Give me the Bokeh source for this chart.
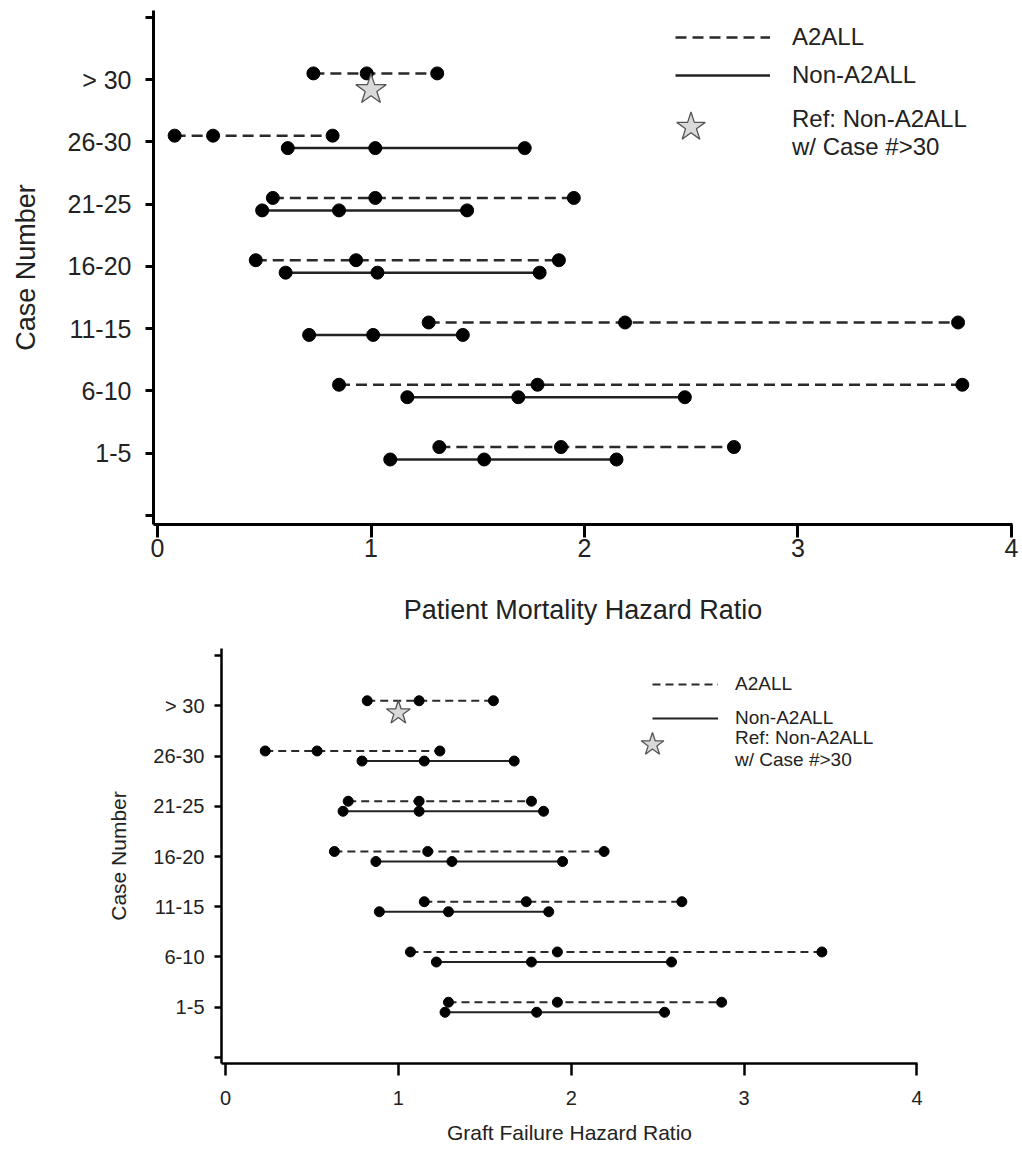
import numpy as np
from bokeh.plotting import figure
from bokeh.models import ColumnDataSource, FixedTicker, Legend, LegendItem, Range1d
from bokeh.embed import file_html
from bokeh.resources import INLINE

# ---------------- data ----------------
categories = ["1-5", "6-10", "11-15", "16-20", "21-25", "26-30", "> 30"]
x_ticks = [0, 1, 2, 3, 4]

# Patient mortality hazard ratios (lower CI, HR, upper CI)
mort_a2all_lo = [1.32, 0.85, 1.27, 0.46, 0.54, 0.08, 0.73]
mort_a2all_hr = [1.89, 1.78, 2.19, 0.93, 1.02, 0.26, 0.98]
mort_a2all_hi = [2.70, 3.77, 3.75, 1.88, 1.95, 0.82, 1.31]
mort_non_lo = [1.09, 1.17, 0.71, 0.60, 0.49, 0.61]
mort_non_hr = [1.53, 1.69, 1.01, 1.03, 0.85, 1.02]
mort_non_hi = [2.15, 2.47, 1.43, 1.79, 1.45, 1.72]
mort_ref_hr = [1.0]

# Graft failure hazard ratios
graft_a2all_lo = [1.29, 1.07, 1.15, 0.63, 0.71, 0.23, 0.82]
graft_a2all_hr = [1.92, 1.92, 1.74, 1.17, 1.12, 0.53, 1.12]
graft_a2all_hi = [2.87, 3.45, 2.64, 2.19, 1.77, 1.24, 1.55]
graft_non_lo = [1.27, 1.22, 0.89, 0.87, 0.68, 0.79]
graft_non_hr = [1.80, 1.77, 1.29, 1.31, 1.12, 1.15]
graft_non_hi = [2.54, 2.58, 1.87, 1.95, 1.84, 1.67]
graft_ref_hr = [1.0]

FONT = "Liberation Sans"


def make_panel(a_lo, a_hr, a_hi, n_lo, n_hr, n_hi, ref_hr, xlabel, st):
    ypos = np.arange(1, len(categories) + 1)
    n_non = len(n_lo)
    a_src = ColumnDataSource(dict(lo=a_lo, hr=a_hr, hi=a_hi, y=ypos + st["dodge"]))
    n_src = ColumnDataSource(dict(lo=n_lo, hr=n_hr, hi=n_hi, y=ypos[:n_non] - st["dodge"]))
    r_src = ColumnDataSource(dict(x=ref_hr, y=ypos[n_non:] - st["star_off"]))

    p = figure(frame_width=st["fw"], frame_height=st["fh"],
               x_range=Range1d(*st["xr"]), y_range=Range1d(*st["yr"]),
               output_backend="svg", toolbar_location=None,
               min_border_left=st["bl"], min_border_right=st["br"],
               min_border_top=st["bt"], min_border_bottom=st["bb"])
    p.outline_line_color = None
    p.xgrid.visible = False
    p.ygrid.visible = False
    p.background_fill_color = "white"

    a_seg = p.segment(x0="lo", y0="y", x1="hi", y1="y", source=a_src,
                      line_color="#2a2a2a", line_width=st["lw"], line_dash=st["dash"])
    n_seg = p.segment(x0="lo", y0="y", x1="hi", y1="y", source=n_src,
                      line_color="#222222", line_width=st["lw"])
    for col in ("lo", "hr", "hi"):
        p.scatter(x=col, y="y", source=a_src, size=st["dot"], color="black")
        p.scatter(x=col, y="y", source=n_src, size=st["dot"], color="black")
    star = p.scatter(x="x", y="y", source=r_src, marker="star", size=st["star"],
                     fill_color="#d9d9d9", line_color="#555555", line_width=1.3)
    # empty, invisible renderer used only as the key of the text-only legend entry
    blank = p.scatter(x=[], y=[], size=1, fill_alpha=0, line_alpha=0)

    # axes
    p.xaxis.ticker = FixedTicker(ticks=x_ticks)
    p.yaxis.ticker = FixedTicker(ticks=list(range(0, len(categories) + 2)))
    overrides = {0: "", len(categories) + 1: ""}
    for i, c in enumerate(categories):
        overrides[i + 1] = c
    p.yaxis.major_label_overrides = overrides
    for ax in (p.xaxis[0], p.yaxis[0]):
        ax.axis_line_width = st["axw"]
        ax.axis_line_color = "black"
        ax.major_tick_line_width = st["axw"]
        ax.major_tick_line_color = "black"
        ax.minor_tick_line_color = None
        ax.major_tick_in = 0
        ax.major_label_text_font = FONT
        ax.major_label_text_font_size = st["tick_fs"]
        ax.major_label_text_color = "#222222"
        ax.axis_label_text_font = FONT
        ax.axis_label_text_font_style = "normal"
        ax.axis_label_text_font_size = st["lab_fs"]
        ax.axis_label_text_color = "#222222"
    p.xaxis.major_tick_out = st["xtick"]
    p.yaxis.major_tick_out = st["ytick"]
    p.xaxis.major_label_standoff = st["xstand"]
    p.yaxis.major_label_standoff = st["ystand"]
    p.xaxis.axis_label = xlabel
    p.yaxis.axis_label = "Case Number"
    p.xaxis.axis_label_standoff = st["xlab_stand"]
    p.yaxis.axis_label_standoff = st["ylab_stand"]

    common = dict(padding=0, margin=0, border_line_alpha=0, background_fill_alpha=0,
                  label_text_font=FONT, label_text_font_size=st["leg_fs"],
                  label_text_color="#222222")
    leg1 = Legend(items=[LegendItem(label="A2ALL", renderers=[a_seg]),
                         LegendItem(label="Non-A2ALL", renderers=[n_seg])],
                  location=st["leg1_loc"], glyph_width=st["leg1_gw"], glyph_height=st["leg1_gh"],
                  spacing=st["leg1_sp"], label_standoff=st["leg1_so"], label_height=10,
                  **common)
    leg2 = Legend(items=[LegendItem(label="", renderers=[star])],
                  location=st["leg2_loc"], glyph_width=st["leg2_g"], glyph_height=st["leg2_g"],
                  label_standoff=0, label_height=10, label_width=1, **common)
    leg3 = Legend(items=[LegendItem(label="Ref: Non-A2ALL\nw/ Case #>30", renderers=[blank])],
                  location=st["leg3_loc"], glyph_width=1, glyph_height=10,
                  label_standoff=0, label_height=st["leg3_lh"], **common)
    p.add_layout(leg1)
    p.add_layout(leg2)
    p.add_layout(leg3)
    return p


top_style = dict(fw=859, fh=514, xr=(-0.019, 4.005), yr=(-0.144, 8.11),
                 bl=153, br=10, bt=10, bb=106,
                 dodge=0.1, star_off=0.16, lw=2.5, dash="11 6", dot=13, star=32,
                 axw=3, tick_fs="25px", lab_fs="27px", xtick=13, ytick=8,
                 xstand=1, ystand=14, xlab_stand=35, ylab_stand=24,
                 leg1_loc=(522, 435), leg1_gw=95, leg1_gh=28, leg1_sp=10, leg1_so=22,
                 leg2_loc=(500, 360), leg2_g=75,
                 leg3_loc=(638, 361), leg3_lh=60, leg_fs="24px")

bot_style = dict(fw=696, fh=415, xr=(-0.023, 4.003), yr=(-0.12, 8.14),
                 bl=221, br=105, bt=18, bb=86,
                 dodge=0.1, star_off=0.14, lw=2.0, dash="8 5", dot=10, star=25,
                 axw=2.5, tick_fs="20px", lab_fs="21px", xtick=12, ytick=7,
                 xstand=15, ystand=10, xlab_stand=13, ylab_stand=20,
                 leg1_loc=(431, 334), leg1_gw=66, leg1_gh=22, leg1_sp=12, leg1_so=17,
                 leg2_loc=(401, 289), leg2_g=60,
                 leg3_loc=(513, 289), leg3_lh=50, leg_fs="19px")

p_top = make_panel(mort_a2all_lo, mort_a2all_hr, mort_a2all_hi,
                   mort_non_lo, mort_non_hr, mort_non_hi, mort_ref_hr,
                   "Patient Mortality Hazard Ratio", top_style)
p_bot = make_panel(graft_a2all_lo, graft_a2all_hr, graft_a2all_hi,
                   graft_non_lo, graft_non_hr, graft_non_hi, graft_ref_hr,
                   "Graft Failure Hazard Ratio", bot_style)

open("out.html", "w").write(file_html([p_top, p_bot], INLINE))
